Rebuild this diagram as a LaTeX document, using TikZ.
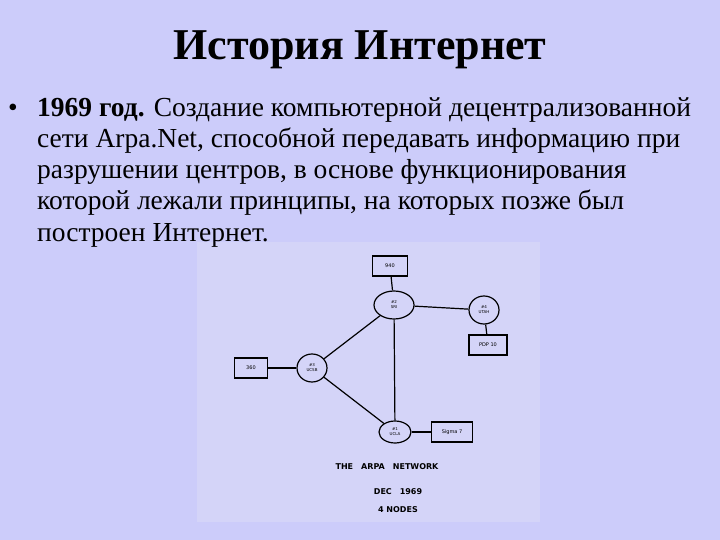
\documentclass[tikz,border=0pt]{standalone}
\usepackage{fontspec}
\usetikzlibrary{shapes.geometric}
\setmainfont{Liberation Serif}
\newfontfamily\hand{DejaVu Sans}
\begin{document}
\begin{tikzpicture}[x=1pt,y=-1pt,
  body/.style={anchor=base west,inner sep=0pt,font=\fontsize{27.5}{30}\selectfont},
  hub/.style={draw,ellipse,minimum width=#1,minimum height=28pt,inner sep=0pt,line width=1.2pt,align=center,font=\hand\fontsize{4}{5}\selectfont},
  host/.style={draw,rectangle,line width=1.2pt,inner sep=1pt,minimum height=20pt,font=\hand\fontsize{5}{6}\selectfont},
  link/.style={line width=1.2pt},
  captxt/.style={font=\hand\bfseries\fontsize{8}{9}\selectfont,inner sep=0pt}]
\fill[fill={rgb,255:red,204;green,204;blue,250}] (0,0) rectangle (720,540);
\fill[fill={rgb,255:red,212;green,212;blue,248}] (197,242) rectangle (540,522);
\node[inner sep=0pt,font=\bfseries\fontsize{44}{48}\selectfont] (title) at (360,50) {История Интернет};
\node[body] (bul) at (8,117) {•};
\node[body] (l1) at (37,117) {\textbf{1969 год.} Создание компьютерной децентрализованной};
\node[body] (l2) at (37,148) {сети Arpa.Net, способной передавать информацию при};
\node[body] (l3) at (37,179) {разрушении центров, в основе функционирования};
\node[body] (l4) at (37,210) {которой лежали принципы, на которых позже был};
\node[body] (l5) at (37,241) {построен Интернет.};
% sketch
\node[host,minimum width=35pt] (n940) at (390,266) {940};
\node[hub=40pt] (sri) at (394,305) {\#2\\SRI};
\node[hub=30pt] (utah) at (484,310) {\#4\\UTAH};
\node[host,minimum width=38pt] (pdp) at (488,345) {PDP 10};
\node[host,minimum width=33pt] (n360) at (251,368) {360};
\node[hub=30pt] (ucsb) at (312,368) {\#3\\UCSB};
\node[hub=32pt,minimum height=22pt] (ucla) at (395,432) {\#1\\UCLA};
\node[host,minimum width=41pt] (sig) at (452,432) {Sigma 7};
\draw[link] (n940) -- (sri);
\draw[link] (sri) -- (utah);
\draw[link] (utah) -- (pdp);
\draw[link] (sri) -- (ucsb);
\draw[link] (n360) -- (ucsb);
\draw[link] (ucsb) -- (ucla);
\draw[link] (sri) -- (ucla);
\draw[link] (ucla) -- (sig);
\node[captxt] (c1) at (387,467) {THE\quad ARPA\quad NETWORK};
\node[captxt] (c2) at (398,492) {DEC\quad 1969};
\node[captxt] (c3) at (398,510) {4 NODES};
\end{tikzpicture}
\end{document}
